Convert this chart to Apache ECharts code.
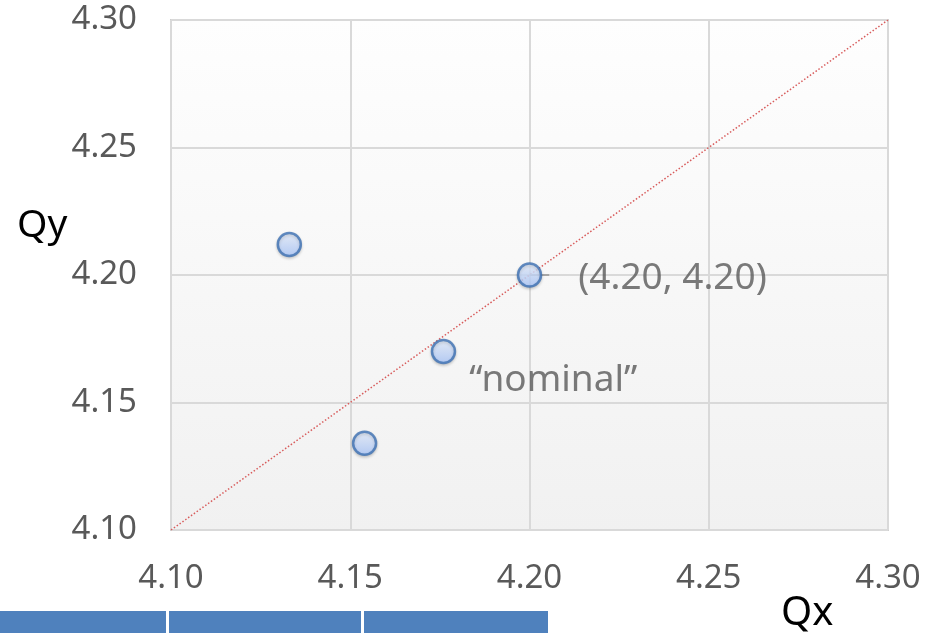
<!DOCTYPE html>
<html>
<head>
<meta charset="utf-8">
<script src="https://cdn.jsdelivr.net/npm/echarts@6/dist/echarts.min.js"></script>
<style>html,body{margin:0;padding:0;background:#fff}#c{width:940px;height:633px}</style>
</head>
<body>
<div id="c"></div>
<script>
var qx = [4.133, 4.154, 4.176, 4.200];
var qy = [4.212, 4.134, 4.170, 4.200];
var pointLabels = ['', '', '\u201cnominal\u201d', '(4.20, 4.20)'];
var diagonal = [[4.10, 4.10], [4.30, 4.30]];
var leader = [[4.200, 4.200], [4.2055, 4.200]];
var ticks = [4.10, 4.15, 4.20, 4.25, 4.30];

var FONT = 'Noto Sans';
var chart = echarts.init(document.getElementById('c'));
var labelOffsets = [[0,0],[0,0],[8,29],[31,3]];
var scatterData = qx.map(function (x, i) {
  var d = { value: [x, qy[i]] };
  if (pointLabels[i]) {
    d.label = { show: true, position: 'right', formatter: pointLabels[i], offset: labelOffsets[i] };
  }
  return d;
});
chart.setOption({
  animation: false,
  grid: {
    left: 171, top: 20, right: 52, bottom: 103,
    show: true, borderColor: '#cfcfcf', borderWidth: 2,
    backgroundColor: new echarts.graphic.LinearGradient(0, 0, 0, 1, [
      { offset: 0, color: '#fefefe' }, { offset: 1, color: '#f1f1f1' }
    ])
  },
  xAxis: {
    type: 'value', min: 4.10, max: 4.30, interval: 0.05,
    axisLine: { show: false }, axisTick: { show: false },
    splitLine: { lineStyle: { color: '#d9d9d9', width: 2 } },
    axisLabel: { color: '#595959', fontFamily: FONT, fontSize: 33, margin: 32,
      formatter: function (v) { return v.toFixed(2); } }
  },
  yAxis: {
    type: 'value', min: 4.10, max: 4.30, interval: 0.05,
    axisLine: { show: false }, axisTick: { show: false },
    splitLine: { lineStyle: { color: '#d9d9d9', width: 2 } },
    axisLabel: { color: '#595959', fontFamily: FONT, fontSize: 33, margin: 34,
      formatter: function (v) { return v.toFixed(2); } }
  },
  graphic: [
    { type: 'text', left: 17, top: 206, style: { text: 'Qy', fontFamily: FONT, fontSize: 39, fill: '#000' } },
    { type: 'text', left: 781, top: 594, style: { text: 'Qx', fontFamily: FONT, fontSize: 40, fill: '#000' } },
    { type: 'rect', shape: { x: 0, y: 611, width: 166, height: 22 }, style: { fill: '#4f81bd' } },
    { type: 'rect', shape: { x: 169, y: 611, width: 192, height: 22 }, style: { fill: '#4f81bd' } },
    { type: 'rect', shape: { x: 364, y: 611, width: 184, height: 22 }, style: { fill: '#4f81bd' } }
  ],
  series: [
    { type: 'line', data: diagonal, symbol: 'none', silent: true, z: 2,
      lineStyle: { type: [1.5, 2], color: '#d85c5c', width: 1.5 } },
    { type: 'line', data: leader, symbol: 'none', silent: true, z: 3,
      lineStyle: { color: '#a6a6a6', width: 2 } },
    { type: 'scatter', data: scatterData, symbolSize: 23, z: 5,
      itemStyle: {
        color: new echarts.graphic.LinearGradient(0, 0, 0, 1, [
          { offset: 0, color: '#eaf2ff' }, { offset: 1, color: '#a9c6fb' }
        ]),
        borderColor: '#3d70b3', borderWidth: 2.5,
        shadowColor: 'rgba(0,0,0,0.2)', shadowBlur: 3, shadowOffsetY: 1.5
      },
      label: { color: '#595959', fontFamily: FONT, fontSize: 37 }
    }
  ]
});
</script>
</body>
</html>
